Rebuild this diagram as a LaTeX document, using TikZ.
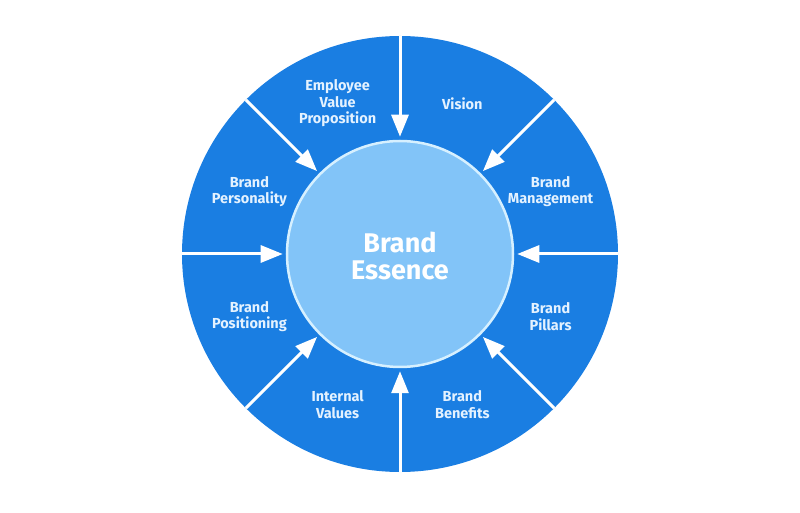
\documentclass[tikz,border=0pt]{standalone}
\usepackage{fontspec}
\setmainfont{Fira Sans}
\usetikzlibrary{arrows.meta}
\definecolor{rimblue}{RGB}{26,126,226}
\definecolor{coreblue}{RGB}{130,196,248}
\definecolor{coreedge}{RGB}{214,240,255}
\definecolor{labeltext}{RGB}{228,242,255}
\tikzset{
  rimdisc/.style={circle, fill=rimblue, minimum size=436pt, inner sep=0pt, outer sep=0pt},
  core/.style={circle, fill=coreblue, draw=coreedge, line width=2.5pt, minimum size=226pt,
    inner sep=0pt, align=center, text=white, font=\fontsize{27}{27}\selectfont\bfseries},
  petal/.style={align=center, text=labeltext, font=\fontsize{14.5}{16.5}\selectfont\bfseries},
  feed/.style={draw=white, line width=3pt, -{Triangle[length=22pt,width=17pt]}, shorten >=3pt}
}

\begin{document}
\begin{tikzpicture}[x=1pt, y=1pt]
\useasboundingbox (-400,-259) rectangle (400,254);
\node[rimdisc](rim) at (0,0) {};
\node[core](essence) at (0,0) {};
\node[core, fill=none, draw=none](title) at (0,-2) {Brand\\Essence};
\node[petal](evp) at (112.5:163) {Employee\\Value\\Proposition};
\node[petal](vision) at (67.5:163) {Vision};
\node[petal](mgmt) at (22.5:163) {Brand\\Management};
\node[petal](pillars) at (-22.5:163) {Brand\\Pillars};
\node[petal](benefits) at (-67.5:163) {Brand\\Benefits};
\node[petal](values) at (-112.5:163) {Internal\\Values};
\node[petal](positioning) at (-157.5:163) {Brand\\Positioning};
\node[petal](personality) at (157.5:163) {Brand\\Personality};
\draw[feed] (rim.0) -- (essence);
\draw[feed] (rim.45) -- (essence);
\draw[feed] (rim.90) -- (essence);
\draw[feed] (rim.135) -- (essence);
\draw[feed] (rim.180) -- (essence);
\draw[feed] (rim.225) -- (essence);
\draw[feed] (rim.270) -- (essence);
\draw[feed] (rim.315) -- (essence);
\end{tikzpicture}
\end{document}
